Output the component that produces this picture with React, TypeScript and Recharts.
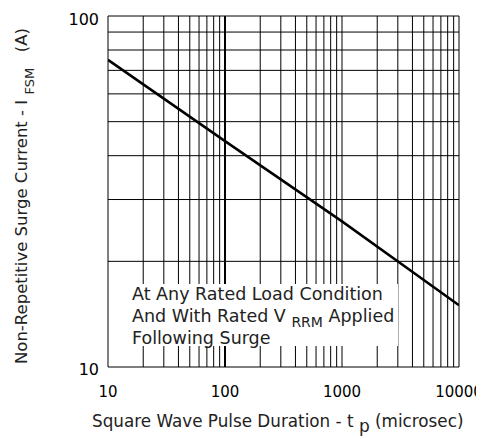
import { LineChart, Line, XAxis, YAxis, ReferenceLine } from "recharts";

// pulse duration (microsec) vs. peak surge current (A)
const pulseUs = [10, 100, 1000, 10000];
const surgeA = [75, 44, 26, 15];

const xTicks = [10, 100, 1000, 10000];
const yTicks = [10, 100];

// log grid lines
const xGrid = [
  10, 20, 30, 40, 50, 60, 70, 80, 90,
  100, 200, 300, 400, 500, 600, 700, 800, 900,
  1000, 2000, 3000, 4000, 5000, 6000, 7000, 8000, 9000, 10000,
];
const yGrid = [10, 20, 30, 40, 50, 60, 70, 80, 90, 100];

const font = "'DejaVu Sans', sans-serif";

export default function App() {
  const data = pulseUs.map((t, i) => ({ t, i: surgeA[i] }));

  return (
    <div style={{ position: "relative", width: 476, height: 431, fontFamily: font }}>
      <LineChart
        width={476}
        height={431}
        data={data}
        margin={{ top: 8, right: 25, bottom: 32, left: 40 }}
        style={{ overflow: "visible" }}
      >
        {xGrid.map((v) => (
          <ReferenceLine
            key={"x" + v}
            x={v}
            stroke="#000"
            strokeWidth={v === 100 ? 2 : 1}
            ifOverflow="visible"
          />
        ))}
        {yGrid.map((v) => (
          <ReferenceLine key={"y" + v} y={v} stroke="#000" strokeWidth={1} ifOverflow="visible" />
        ))}
        <XAxis
          dataKey="t"
          type="number"
          scale="log"
          domain={[10, 10000]}
          ticks={xTicks}
          allowDataOverflow
          axisLine={false}
          tickLine={false}
          tickSize={0}
          tickMargin={19}
          height={40}
          tick={{ fill: "#000", fontSize: 15, fontFamily: font }}
        />
        <YAxis
          type="number"
          scale="log"
          domain={[10, 100]}
          ticks={yTicks}
          allowDataOverflow
          axisLine={false}
          tickLine={false}
          tickSize={0}
          tickMargin={9}
          width={60}
          tick={{ fill: "#000", fontSize: 16, fontFamily: font, dy: 2 }}
        />
        <Line
          type="linear"
          dataKey="i"
          stroke="#000"
          strokeWidth={2.5}
          dot={false}
          isAnimationActive={false}
        />
      </LineChart>

      {/* condition note */}
      <div
        style={{
          position: "absolute",
          left: 122,
          top: 276,
          width: 268,
          height: 62,
          background: "#fff",
          fontSize: 17.5,
          lineHeight: "21.5px",
          paddingLeft: 2,
          boxSizing: "border-box",
          color: "#222",
          whiteSpace: "nowrap",
        }}
      >
        <div>At Any Rated Load Condition</div>
        <div>
          And With Rated V <span style={{ fontSize: 14, position: "relative", top: 5 }}>RRM</span> Applied
        </div>
        <div>Following Surge</div>
      </div>

      {/* x title */}
      <div
        style={{
          position: "absolute",
          left: 84,
          top: 403,
          fontSize: 16.8,
          color: "#222",
          whiteSpace: "nowrap",
        }}
      >
        Square Wave Pulse Duration - t{" "}
        <span style={{ position: "relative", top: 5, fontSize: 17 }}>p</span> (microsec)
      </div>

      {/* y title */}
      <div
        style={{
          position: "absolute",
          left: 13,
          top: 188,
          width: 0,
          height: 0,
        }}
      >
        <div
          style={{
            position: "absolute",
            transform: "translate(-50%, -50%) rotate(-90deg)",
            fontSize: 16.5,
            color: "#222",
            whiteSpace: "nowrap",
          }}
        >
          Non-Repetitive Surge Current - I{" "}
          <span style={{ position: "relative", top: 7, fontSize: 13 }}>FSM</span>
          {"\u00a0\u00a0\u00a0"}(A)
        </div>
      </div>
    </div>
  );
}
